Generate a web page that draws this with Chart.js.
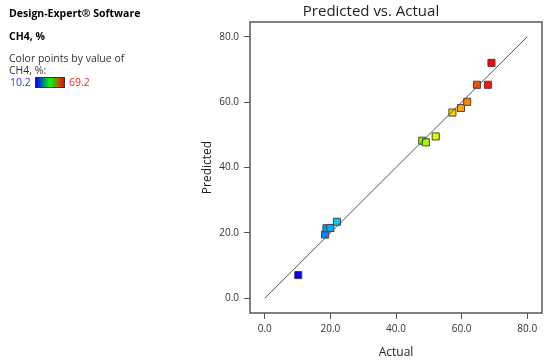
<!DOCTYPE html>
<html>
<head>
<meta charset="utf-8">
<script src="https://cdn.jsdelivr.net/npm/chart.js@4/dist/chart.umd.min.js"></script>
<style>
  body { margin: 0; background: #fff; }
  #wrap { position: relative; width: 550px; height: 364px; font-family: "Open Sans", "Noto Sans", sans-serif; }
  canvas { position: absolute; left: 0; top: 0; }
  .lbl { position: absolute; font-size: 10.5px; color: #333; white-space: nowrap; line-height: 12px; }
  .b { font-weight: bold; color: #000; }
  #bar { position: absolute; left: 35px; top: 77px; width: 28px; height: 9px; border: 1px solid #333;
         background: linear-gradient(to right, #0000ff, #00ff00, #ff0000); }
</style>
</head>
<body>
<div id="wrap">
  <canvas id="pva" width="550" height="364"></canvas>
  <div class="lbl b" style="left:9px; top:7px;">Design-Expert® Software</div>
  <div class="lbl b" style="left:9px; top:30px;">CH4, %</div>
  <div class="lbl" style="left:9px; top:52px;">Color points by value of</div>
  <div class="lbl" style="left:9px; top:64px;">CH4, %:</div>
  <div class="lbl" style="left:10px; top:76px; color:#3030ff;">10.2</div>
  <div id="bar"></div>
  <div class="lbl" style="left:69px; top:76px; color:#ff2020;">69.2</div>
</div>
<script>
// actual vs predicted CH4 %
const actual    = [10.2, 18.4, 18.8, 20.0, 22.0, 48.0, 49.1, 52.1, 57.2, 59.8, 61.7, 64.7, 68.0, 69.1];
const predicted = [ 7.1, 19.5, 21.4, 21.5, 23.4, 48.2, 47.7, 49.5, 56.8, 58.2, 60.1, 65.3, 65.3, 72.0];
const tickValues = [0, 20, 40, 60, 80];
const colorMin = 10.2, colorMax = 69.2;

function pointColor(v) {
    let t = (v - colorMin) / (colorMax - colorMin);
    t = Math.max(0, Math.min(1, t));
    return `hsl(${240 * (1 - t)}, 100%, 50%)`;
}

const boxPlugin = {
    id: "box",
    beforeDatasetsDraw(chart) {
        const { ctx, chartArea: a } = chart;
        ctx.save();
        ctx.strokeStyle = "#555";
        ctx.lineWidth = 1.5;
        ctx.strokeRect(a.left, a.top, a.right - a.left, a.bottom - a.top);
        ctx.restore();
    }
};

const setTicks = scale => { scale.ticks = tickValues.map(v => ({ value: v })); };

new Chart(document.getElementById("pva"), {
    type: "scatter",
    data: {
        datasets: [
            {
                type: "line",
                data: [{ x: 0, y: 0 }, { x: 80, y: 80 }],
                borderColor: "#555",
                borderWidth: 1,
                pointRadius: 0,
                fill: false
            },
            {
                data: actual.map((a, i) => ({ x: a, y: predicted[i] })),
                pointStyle: "rect",
                pointRadius: 5,
                pointHoverRadius: 5,
                backgroundColor: actual.map(pointColor),
                borderColor: "#444",
                borderWidth: 1
            }
        ]
    },
    options: {
        responsive: false,
        animation: false,
        layout: { padding: { left: 200, right: 8, top: 0, bottom: 0 } },
        plugins: {
            legend: { display: false },
            tooltip: { enabled: false },
            title: {
                display: true,
                text: "Predicted vs. Actual",
                color: "#222",
                font: { family: "Open Sans", size: 15, weight: "normal" },
                padding: { top: 3, bottom: 1 }
            }
        },
        scales: {
            x: {
                type: "linear",
                min: -4.5, max: 84.5,
                afterBuildTicks: setTicks,
                afterFit: s => { s.height = 51; },
                border: { display: false },
                grid: { drawOnChartArea: false, drawTicks: true, tickLength: 6, color: "#555" },
                ticks: { color: "#333", font: { family: "Open Sans", size: 10 }, padding: 4,
                         callback: v => v.toFixed(1), maxRotation: 0 },
                title: { display: true, text: "Actual", color: "#222",
                         font: { family: "Open Sans", size: 12 }, padding: { top: 6, bottom: 4 } }
            },
            y: {
                type: "linear",
                min: -4.5, max: 84.5,
                afterBuildTicks: setTicks,
                afterFit: s => { s.width = 50; },
                border: { display: false },
                grid: { drawOnChartArea: false, drawTicks: true, tickLength: 6, color: "#555" },
                ticks: { color: "#333", font: { family: "Open Sans", size: 10 }, padding: 5,
                         callback: v => v.toFixed(1) },
                title: { display: true, text: "Predicted", color: "#222",
                         font: { family: "Open Sans", size: 12 }, padding: { top: 0, bottom: 0 } }
            }
        }
    },
    plugins: [boxPlugin]
});
</script>
</body>
</html>
